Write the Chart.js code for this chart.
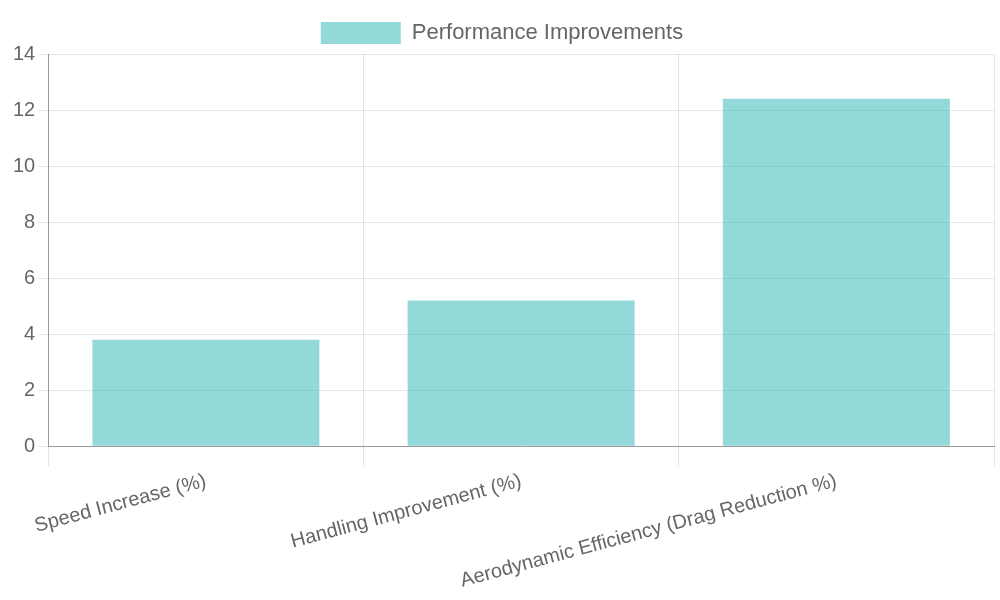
<!DOCTYPE html>
<html><head><meta charset="utf-8">
<script src="https://cdn.jsdelivr.net/npm/chart.js@4"></script>
<style>html,body{margin:0;padding:0;background:#fff}#w{width:1000px;height:600px}</style>
</head><body><div id="w"><canvas id="c"></canvas></div>
<script>
const categories = ["Speed Increase (%)", "Handling Improvement (%)", "Aerodynamic Efficiency (Drag Reduction %)"];
const improvements = [3.8, 5.2, 12.4];
Chart.defaults.font.family = "'Liberation Sans', Arial, sans-serif";
Chart.defaults.font.size = 20;
Chart.defaults.color = '#666';
new Chart(document.getElementById('c'), {
  type: 'bar',
  data: { labels: categories, datasets: [{ label: 'Performance Improvements', data: improvements,
    backgroundColor: 'rgba(75,192,192,0.6)', borderWidth: 0 }] },
  options: {
    responsive: true, maintainAspectRatio: false, animation: false,
    layout: { padding: { top: 10, left: 10, right: 6, bottom: 4 } },
    plugins: { legend: { labels: { boxWidth: 80, padding: 12, font: { size: 22 } } } },
    scales: {
      y: { min: 0, max: 14, ticks: { stepSize: 2 }, border: { color: '#999' }, grid: { tickLength: 10 } },
      x: { ticks: { maxRotation: 15, minRotation: 15 }, border: { color: '#999' }, grid: { tickLength: 20 } }
    }
  }
});
</script></body></html>
